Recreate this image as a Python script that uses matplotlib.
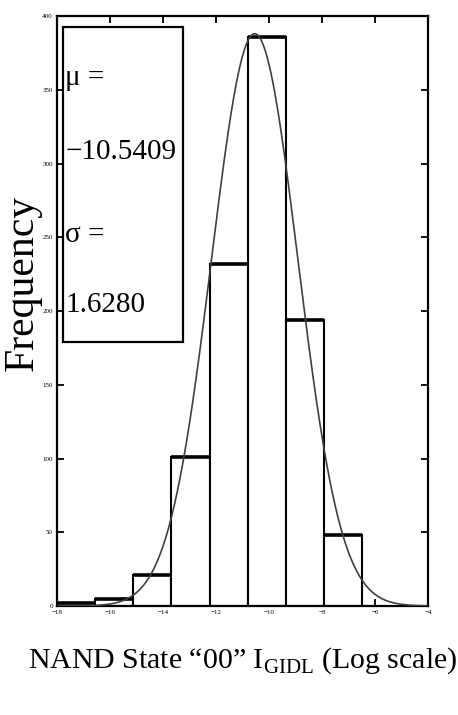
import numpy as np
import matplotlib.pyplot as plt
from matplotlib.patches import Rectangle

plt.rcParams['font.family'] = ['Liberation Serif', 'DejaVu Serif']
plt.rcParams['mathtext.fontset'] = 'custom'
plt.rcParams['mathtext.rm'] = 'Liberation Serif'

# Histogram of log10(I_GIDL), state "00"
bin_edges = [-18.0, -16.56, -15.12, -13.68, -12.24, -10.80, -9.36, -7.92, -6.48]
counts = [2, 5, 21, 101, 232, 386, 194, 48]

# Normal fit
mu = -10.5409
sigma = 1.6280
fit_peak = 388

xticks = [-18, -16, -14, -12, -10, -8, -6, -4]
yticks = [0, 50, 100, 150, 200, 250, 300, 350, 400]

fig = plt.figure(figsize=(4.58, 7.15), dpi=100)
ax = fig.add_axes([0.1245, 0.1524, 0.81, 0.8252])

lefts = np.array(bin_edges[:-1])
widths = np.diff(bin_edges)
ax.bar(lefts, counts, width=widths, align='edge',
       color='white', edgecolor='black', linewidth=1.5, zorder=2)
# heavier bar tops
ax.hlines(counts, lefts, lefts + widths, color='black', linewidth=2.6, zorder=2)

xs = np.linspace(-18, -4, 400)
ax.plot(xs, fit_peak * np.exp(-0.5 * ((xs - mu) / sigma) ** 2),
        color='#404040', linewidth=1.2, zorder=3)

ax.set_xlim(-18, -4)
ax.set_ylim(0, 400)
ax.set_xticks(xticks)
ax.set_yticks(yticks)
ax.tick_params(direction='in', top=True, right=True, length=5, width=1.3,
               labelsize=5, pad=3)
for s in ax.spines.values():
    s.set_linewidth(1.6)

# stats box
ax.add_patch(Rectangle((0.016, 0.447), 0.324, 0.534, transform=ax.transAxes,
                       facecolor='white', edgecolor='black', linewidth=1.6,
                       zorder=4))
for txt, y in [('μ =', 0.895), ('−10.5409', 0.769), ('σ =', 0.629), ('1.6280', 0.510)]:
    ax.text(0.022, y, txt, transform=ax.transAxes, fontsize=21,
            ha='left', va='center', zorder=5)

ax.set_ylabel('Frequency', fontsize=30)
ax.yaxis.set_label_coords(-0.04, 0.547)
ax.set_xlabel('NAND State \u201c00\u201d $\\mathrm{I}_{\\mathrm{GIDL}}$ (Log scale)',
              fontsize=21.5, labelpad=22)

plt.savefig('out.png', dpi=100)
